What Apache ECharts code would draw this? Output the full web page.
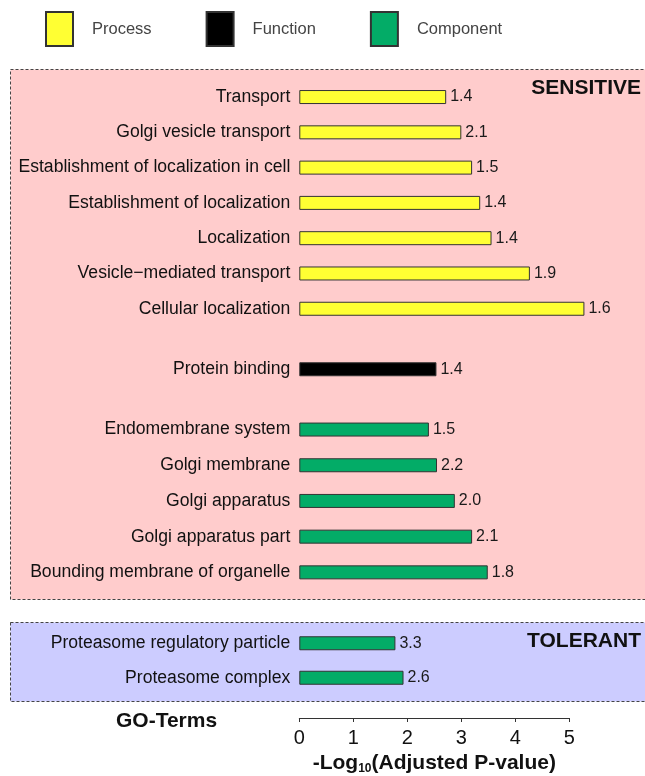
<!DOCTYPE html>
<html>
<head>
<meta charset="utf-8">
<script src="https://cdn.jsdelivr.net/npm/echarts@6/dist/echarts.min.js"></script>
<style>
  html, body { margin: 0; padding: 0; background: #fff; }
  #chart { width: 645px; height: 776px; }
</style>
</head>
<body>
<div id="chart"></div>
<script>
const FONT = 'Liberation Sans, Arial, sans-serif';

// sensitive: biological process
const processTerms = ['Transport', 'Golgi vesicle transport', 'Establishment of localization in cell',
  'Establishment of localization', 'Localization', 'Vesicle\u2212mediated transport', 'Cellular localization'];
const processValues = [2.72, 3.00, 3.20, 3.35, 3.56, 4.27, 5.28];
const processLabels = [1.4, 2.1, 1.5, 1.4, 1.4, 1.9, 1.6];

// sensitive: molecular function
const functionTerms = ['Protein binding'];
const functionValues = [2.54];
const functionLabels = [1.4];

// sensitive: cellular component
const componentTerms = ['Endomembrane system', 'Golgi membrane', 'Golgi apparatus',
  'Golgi apparatus part', 'Bounding membrane of organelle'];
const componentValues = [2.40, 2.55, 2.88, 3.20, 3.49];
const componentLabels = [1.5, 2.2, 2.0, 2.1, 1.8];

// tolerant: cellular component
const tolerantTerms = ['Proteasome regulatory particle', 'Proteasome complex'];
const tolerantValues = [1.78, 1.93];
const tolerantLabels = [3.3, 2.6];

const xTicks = [0, 1, 2, 3, 4, 5];

const colors = {Process: '#FFFF33', Function: '#000000', Component: '#03AC67'};

var myChart = echarts.init(document.getElementById('chart'));

// one grid per block, all share the same x scale
const grids = [
  {top: 79.4, height: 247},
  {top: 351.5, height: 35.5},
  {top: 411.7, height: 178.5},
  {top: 626, height: 69.4}
].map(g => Object.assign({left: 299.3, width: 270, containLabel: false}, g));

const termSets = [processTerms, functionTerms, componentTerms, tolerantTerms];

const xAxes = grids.map((g, i) => ({
  gridIndex: i,
  type: 'value',
  min: xTicks[0],
  max: xTicks[xTicks.length - 1],
  interval: 1,
  show: i === 3,
  offset: 23,
  splitLine: {show: false},
  axisLine: {show: true, lineStyle: {color: '#333', width: 1}},
  axisTick: {show: true, length: 4, lineStyle: {color: '#333'}},
  axisLabel: {fontSize: 20, color: '#111', margin: 10, fontFamily: FONT},
  name: '{m|-Log}{s|10}{m|(Adjusted P-value)}',
  nameLocation: 'middle',
  nameGap: 34,
  nameTextStyle: {
    rich: {
      m: {fontSize: 21, fontWeight: 'bold', color: '#111', fontFamily: FONT},
      s: {fontSize: 12, fontWeight: 'bold', color: '#111', fontFamily: FONT, padding: [11, 0, 0, 0]}
    }
  }
}));

const yAxes = grids.map((g, i) => ({
  gridIndex: i,
  type: 'category',
  inverse: true,
  data: termSets[i],
  axisLine: {show: false},
  axisTick: {show: false},
  axisLabel: {fontSize: 17.6, color: '#111', margin: 9, fontFamily: FONT}
}));

function barSeries(name, idx, values, labels) {
  return {
    name: name,
    type: 'bar',
    xAxisIndex: idx,
    yAxisIndex: idx,
    data: values,
    barWidth: 14,
    clip: false,
    itemStyle: {color: colors[name], borderColor: '#333', borderWidth: 1},
    label: {
      show: true,
      position: 'right',
      distance: 4,
      fontSize: 16,
      color: '#1a1a1a',
      fontFamily: FONT,
      formatter: p => labels[p.dataIndex].toFixed(1)
    }
  };
}

myChart.setOption({
  animation: false,
  textStyle: {fontFamily: FONT},
  legend: {
    data: ['Process', 'Function', 'Component'],
    left: 45,
    top: 11,
    padding: 0,
    itemWidth: 27,
    itemHeight: 34,
    itemGap: 54,
    icon: 'rect',
    textStyle: {fontSize: 16.5, color: '#444', padding: [0, 0, 0, 14], fontFamily: FONT}
  },
  graphic: [
    {
      type: 'rect', z: -10, silent: true,
      shape: {x: 10.5, y: 69.5, width: 650, height: 530},
      style: {fill: '#FFCCCC', stroke: '#444', lineWidth: 1, lineDash: [3, 2]}
    },
    {
      type: 'rect', z: -10, silent: true,
      shape: {x: 10.5, y: 622.5, width: 650, height: 79},
      style: {fill: '#CCCCFF', stroke: '#444', lineWidth: 1, lineDash: [3, 2]}
    },
    {
      type: 'text', right: 4, top: 78,
      style: {text: 'SENSITIVE', font: 'bold 21px ' + FONT, fill: '#111'}
    },
    {
      type: 'text', right: 4, top: 631,
      style: {text: 'TOLERANT', font: 'bold 21px ' + FONT, fill: '#111'}
    },
    {
      type: 'text', left: 116, top: 711,
      style: {text: 'GO-Terms', font: 'bold 21px ' + FONT, fill: '#111'}
    }
  ],
  grid: grids,
  xAxis: xAxes,
  yAxis: yAxes,
  series: [
    barSeries('Process', 0, processValues, processLabels),
    barSeries('Function', 1, functionValues, functionLabels),
    barSeries('Component', 2, componentValues, componentLabels),
    barSeries('Component', 3, tolerantValues, tolerantLabels)
  ]
});
</script>
</body>
</html>
